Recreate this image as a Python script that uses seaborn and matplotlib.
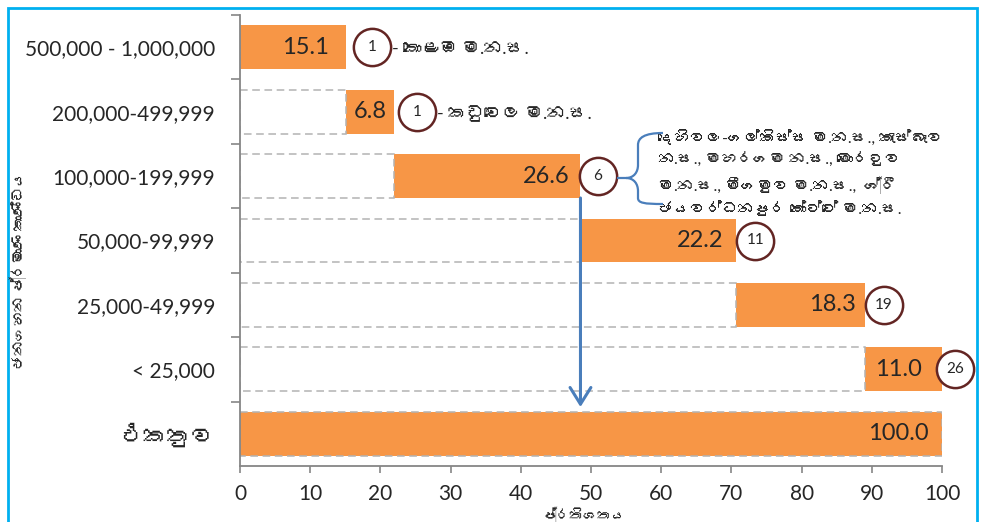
import matplotlib
matplotlib.use("Agg")
import matplotlib.pyplot as plt
from matplotlib import font_manager
from matplotlib.ft2font import FT2Font
from matplotlib.patches import Rectangle, PathPatch
from matplotlib.path import Path
import seaborn as sns
import pandas as pd
import numpy as np

# population size groups (top to bottom) and share of population (%)
categories = ['500,000 - 1,000,000', '200,000-499,999', '100,000-199,999',
              '50,000-99,999', '25,000-49,999', '< 25,000', 'එකතුව']
shares = [15.1, 6.8, 26.6, 22.2, 18.3, 11.0]
total = 100.0
# number of local authorities in each group
council_counts = [1, 1, 6, 11, 19, 26]

note_colombo = '- කොළඹ ම.න.ස.'
note_kaduwela = '- කඩුවෙල ම.න.ස.'
note_group3 = ('දෙහිවල-ගල්කිස්ස ම.න.ස., කැස්බෑව\n'
               'න.ස., මහරගම න.ස., මොරටුව\n'
               'ම.න.ස., මීගමුව ම.න.ස.,  ශ්‍රී\n'
               'ජයවර්ධනපුර කෝට්ටේ ම.න.ස.')
x_title = 'ප්‍රතිශතය'
y_title = 'ජනගහන ප්‍රමාණ කාණ්ඩය'

ORANGE = '#F79646'
CIRCLE = '#632523'
BLUE = '#4A7EBB'
DASH = '#B3B3B3'
SPINE = '#868686'


def find_sinhala_font():
    """Look for any installed font that has Sinhala glyphs."""
    for f in font_manager.fontManager.ttflist:
        try:
            if 0x0D9A in FT2Font(f.fname).get_charmap():
                return f.name
        except Exception:
            pass
    return None


sns.set_style('ticks')
families = ['Lato']
sinhala = find_sinhala_font()
if sinhala:
    families.append(sinhala)
families.append('DejaVu Sans')
plt.rcParams['font.family'] = families

ends = np.cumsum(shares)
bases = ends - np.array(shares)

df = pd.DataFrame({
    'category': categories,
    'end': list(ends) + [total],
    'base': list(bases) + [0.0],
    'outline': list(bases) + [total],
    'value': list(shares) + [total],
})

fig = plt.figure(figsize=(9.82, 5.22), dpi=100)
ax = fig.add_axes([240 / 982, 1 - 466 / 522, 702 / 982, 451 / 522])

bar_w = 0.68
sns.barplot(data=df, x='end', y='category', order=categories, orient='h',
            color=ORANGE, saturation=1, width=bar_w, linewidth=0, ax=ax)
sns.barplot(data=df, x='base', y='category', order=categories, orient='h',
            color='white', saturation=1, width=bar_w, linewidth=0, ax=ax)
sns.barplot(data=df, x='outline', y='category', order=categories, orient='h',
            color=DASH, fill=False, width=bar_w, linewidth=1.1,
            linestyle=(0, (5, 3)), ax=ax)

ax.set_xlim(0, 100)
ax.set_ylim(6.5, -0.5)
ax.set(xlabel='', ylabel='')
ax.set_xticks(np.arange(0, 101, 10))
ax.set_yticks(range(len(categories)))
ax.set_yticklabels(categories)
for lab in ax.get_yticklabels():
    lab.set_fontsize(17 if lab.get_text() == 'එකතුව' else 15)
ax.tick_params(axis='x', labelsize=15, length=5, width=1.2, color=SPINE, pad=8)
ax.tick_params(axis='y', which='major', length=0, pad=18)
ax.set_yticks(np.arange(-0.5, 6.0, 1), minor=True)
ax.tick_params(axis='y', which='minor', length=6.5, width=1.2, color=SPINE)
sns.despine(ax=ax)
for side in ['left', 'bottom']:
    ax.spines[side].set_color(SPINE)
    ax.spines[side].set_linewidth(1.3)

# value labels inside the bars
label_pad = [2.5, 1.0, 1.6, 1.9, 1.2, 2.8, 1.9]
for i, v in enumerate(df['value']):
    ax.text(df['end'][i] - label_pad[i], i, f'{v:.1f}', ha='right',
            va='center', fontsize=17)

# circled council counts next to each bar
circle_gap = [3.7, 3.3, 2.5, 2.7, 2.7, 1.9]
cx = ends + np.array(circle_gap)
ax.scatter(cx, range(len(council_counts)), s=720, facecolor='white',
           edgecolor=CIRCLE, linewidth=1.8, zorder=5, clip_on=False)
for i, n in enumerate(council_counts):
    ax.text(cx[i], i, str(n), ha='center', va='center', fontsize=11,
            zorder=6, clip_on=False)

ax.text(cx[0] + 2.9, 0.03, note_colombo, ha='left', va='center', fontsize=13)
ax.text(cx[1] + 2.9, 1.03, note_kaduwela, ha='left', va='center', fontsize=13)
ax.text(cx[2] + 8.5, 1.96, note_group3, ha='left', va='center', fontsize=11.5,
        linespacing=1.55)

# arrow from the 100,000-199,999 bar down to the total bar
ax.annotate('', xy=(ends[2], 5.585), xytext=(ends[2], 2 + bar_w / 2),
            arrowprops=dict(arrowstyle='->,head_length=1.2,head_width=0.75',
                            color=BLUE, lw=2.2, shrinkA=0, shrinkB=0,
                            mutation_scale=10))


def px(x, y):
    return (x / 982, 1 - y / 522)


# curly bracket joining circle "6" to its list of councils
brace_pts = [px(617, 178), px(626, 178),
             px(634, 178), px(638, 172), px(638, 165),
             px(638, 145),
             px(638, 138), px(644, 133), px(663, 133),
             px(626, 178), px(634, 178), px(638, 184), px(638, 191),
             px(638, 198),
             px(638, 203), px(644, 204), px(663, 204)]
brace_codes = [Path.MOVETO, Path.LINETO,
               Path.CURVE4, Path.CURVE4, Path.CURVE4,
               Path.LINETO,
               Path.CURVE4, Path.CURVE4, Path.CURVE4,
               Path.MOVETO, Path.CURVE4, Path.CURVE4, Path.CURVE4,
               Path.LINETO,
               Path.CURVE4, Path.CURVE4, Path.CURVE4]
fig.add_artist(PathPatch(Path(brace_pts, brace_codes), facecolor='none',
                         edgecolor=BLUE, lw=1.6, transform=fig.transFigure))

fig.text(*px(584, 514), x_title, ha='center', va='center', fontsize=10)
fig.text(*px(18, 270), y_title, ha='center', va='center', fontsize=10.5,
         rotation=90)

# light blue frame around the figure
fig.add_artist(Rectangle(px(8, 540), 969 / 982, 532 / 522, facecolor='none',
                         edgecolor='#00B0F0', lw=2, transform=fig.transFigure))

fig.savefig('out.png', dpi=100)
